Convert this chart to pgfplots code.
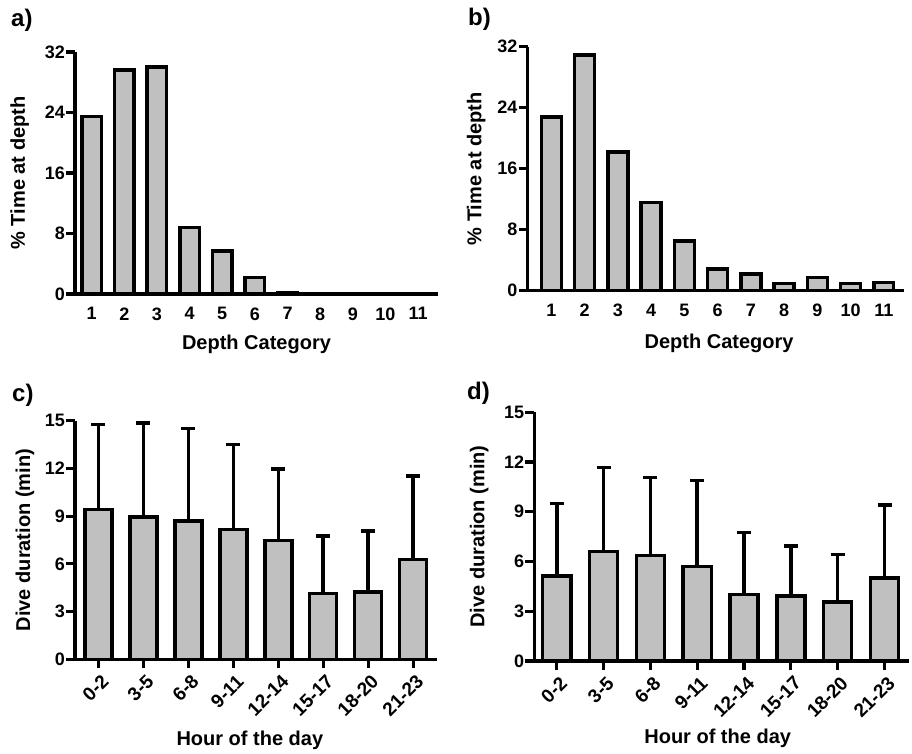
\documentclass[border=0pt]{standalone}
\usepackage{fontspec}
\setmainfont{Liberation Sans}
\usepackage{pgfplots}
\pgfplotsset{compat=1.18}
\definecolor{barfill}{HTML}{C0C0C0}
\pgfplotsset{
  panel/.style={
    scale only axis, axis lines=left,
    axis line style={-, line width=3.4pt, black},
    tick style={black, line width=3.2pt}, tick align=outside,
    major tick length=9pt,
    ymin=0,
    /pgf/number format/assume math mode=true,
    tick label style={font=\fontsize{18}{20}\selectfont\bfseries, text=black},
    label style={font=\fontsize{20}{22}\selectfont\bfseries, text=black},
    yticklabel style={inner sep=1pt},
    clip=false,
  },
  depth/.style={panel, xtick={1,...,11}, xtick style={draw=none},
    ymax=32, ytick={0,8,16,24,32}, xlabel={Depth Category}, ylabel={\% Time at depth},
    xticklabel style={yshift=-1pt}},
  hour/.style={panel, xtick={1,...,8}, ymax=15, ytick={0,3,...,15},
    xticklabels={0-2,3-5,6-8,9-11,12-14,15-17,18-20,21-23},
    xticklabel style={rotate=45, anchor=north east, inner sep=2pt, yshift=-3pt,
      font=\fontsize{19}{21}\selectfont\bfseries},
    xlabel={Hour of the day}, ylabel={Dive duration (min)}},
  bars/.style={ybar, bar width=0.6, fill=barfill, draw=black, line width=3.5pt},
  errs/.style={error bars/.cd, y dir=plus, y explicit,
    error bar style={line width=3.5pt, black},
    error mark=-,
    error mark options={rotate=90, line width=3.5pt, black, mark size=7pt}},
}
\pgfplotstableread{
x y
1 23.5
2 29.6
3 30.0
4 8.8
5 5.7
6 2.2
7 0.2
8 0.05
9 0.05
10 0.05
11 0.05
}\tablea
\pgfplotstableread{
x y
1 22.8
2 30.9
3 18.2
4 11.6
5 6.5
6 2.85
7 2.2
8 0.92
9 1.7
10 0.97
11 1.05
}\tableb
\pgfplotstableread{
x y e
1 9.43 5.34
2 8.96 5.91
3 8.69 5.81
4 8.15 5.35
5 7.48 4.48
6 4.15 3.60
7 4.23 3.83
8 6.28 5.24
}\tablec
\pgfplotstableread{
x y e
1 5.13 4.38
2 6.60 5.06
3 6.35 4.73
4 5.69 5.19
5 4.02 3.74
6 3.92 3.02
7 3.56 2.85
8 5.00 4.41
}\tabled
\begin{document}
\begin{tikzpicture}
\useasboundingbox (0,0) rectangle (912pt,-753pt);
\begin{axis}[depth, at={(75pt,-294pt)}, anchor=south west, width=363pt, height=242pt,
  xmin=0.49, xmax=11.61,
  xlabel style={at={(axis description cs:0.5,-0.21)}, anchor=center},
  ylabel style={at={(axis description cs:-0.152,0.5)}, anchor=center}]
\addplot[bars] table[x=x,y=y] {\tablea};
\end{axis}
\begin{axis}[depth, at={(527.7pt,-290.7pt)}, anchor=south west, width=376pt, height=244pt,
  xmin=0.29, xmax=11.6,
  xlabel style={at={(axis description cs:0.509,-0.216)}, anchor=center},
  ylabel style={at={(axis description cs:-0.137,0.5)}, anchor=center}]
\addplot[bars] table[x=x,y=y] {\tableb};
\end{axis}
\begin{axis}[hour, at={(75pt,-659.3pt)}, anchor=south west, width=362pt, height=238.6pt,
  xmin=0.48, xmax=8.53,
  xlabel style={at={(axis description cs:0.483,-0.338)}, anchor=center},
  ylabel style={at={(axis description cs:-0.138,0.5)}, anchor=center}]
\addplot[bars, errs] table[x=x,y=y,y error=e] {\tablec};
\end{axis}
\begin{axis}[hour, at={(534.3pt,-661pt)}, anchor=south west, width=375pt, height=248.7pt,
  xmin=0.52, xmax=8.53,
  xlabel style={at={(axis description cs:0.489,-0.311)}, anchor=center},
  ylabel style={at={(axis description cs:-0.147,0.5)}, anchor=center}]
\addplot[bars, errs] table[x=x,y=y,y error=e] {\tabled};
\end{axis}
\node[font=\fontsize{24}{26}\selectfont\bfseries, anchor=west, inner sep=0pt] at (11pt,-20pt) {a)};
\node[font=\fontsize{24}{26}\selectfont\bfseries, anchor=west, inner sep=0pt] at (468pt,-19pt) {b)};
\node[font=\fontsize{24}{26}\selectfont\bfseries, anchor=west, inner sep=0pt] at (12pt,-395pt) {c)};
\node[font=\fontsize{24}{26}\selectfont\bfseries, anchor=west, inner sep=0pt] at (467pt,-393pt) {d)};
\end{tikzpicture}
\end{document}
